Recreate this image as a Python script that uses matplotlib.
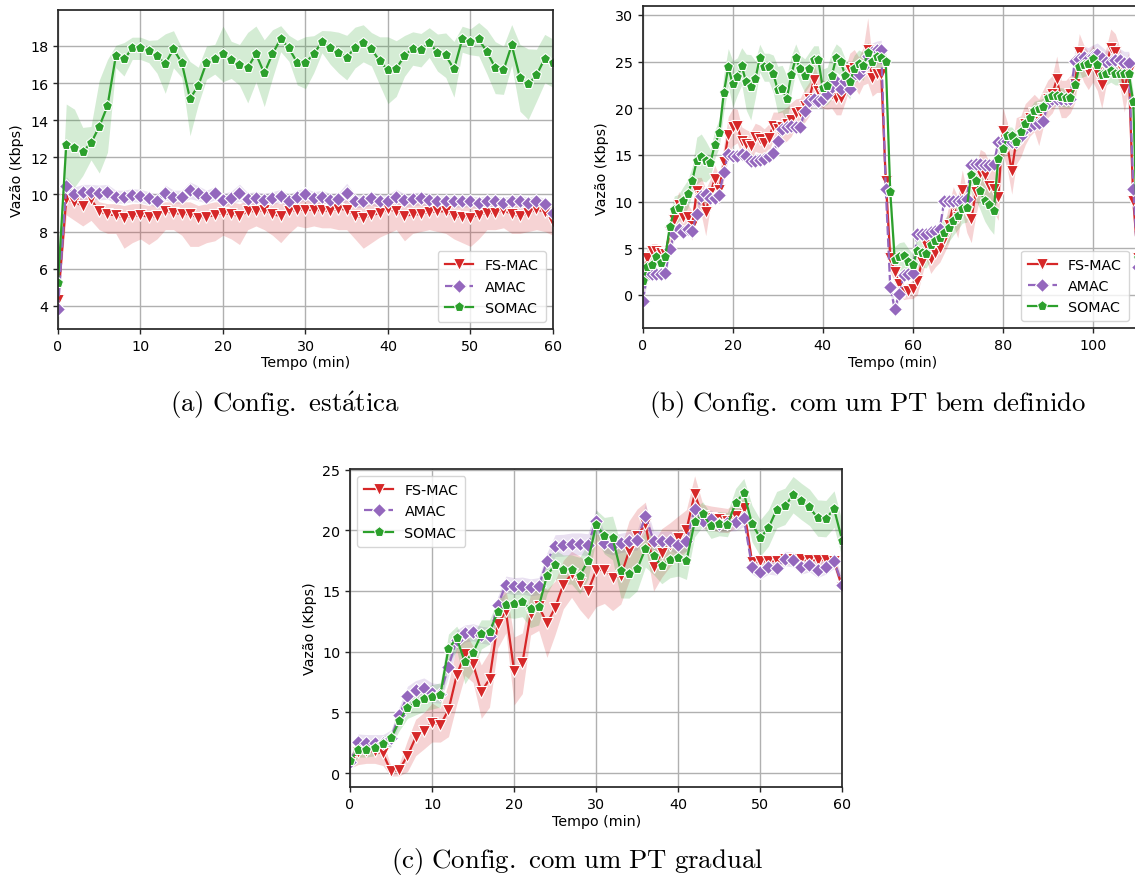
import numpy as np
import matplotlib
matplotlib.use("Agg")
import matplotlib.pyplot as plt

plt.rcParams['font.family'] = ['DejaVu Sans']
plt.rcParams['mathtext.fontset'] = 'cm'
plt.rcParams['font.size'] = 10.3

protocolos = ['FS-MAC', 'AMAC', 'SOMAC']
cores = ['#d62728', '#9467bd', '#2ca02c']
marcadores = ['v', 'D', 'p']
tamanhos = [8, 7.5, 8]
estilos = ['-', (0, (4, 1.5)), '-']

# ---------------- (a) config. estatica ----------------
tempo_a = list(range(61))
a_fs = [4.3, 9.74, 9.6, 9.38, 9.74, 9.08, 8.93, 8.88, 8.75, 8.84,
        8.88, 8.8, 8.84, 9.1, 9.0, 8.96, 8.93, 8.75, 8.8, 8.88,
        9.0, 8.93, 8.84, 9.1, 9.1, 9.17, 8.93, 8.84, 9.1, 9.17,
        9.17, 9.17, 9.15, 9.1, 9.24, 9.17, 8.84, 8.75, 8.88, 9.0,
        9.2, 9.1, 8.84, 8.93, 8.93, 9.06, 9.08, 9.1, 8.84, 8.8,
        8.75, 8.9, 9.0, 9.0, 9.17, 8.93, 8.84, 9.0, 9.2, 9.06,
        8.52]
a_fs_lo = [4.0, 8.9, 8.6, 8.3, 8.6, 8.1, 7.9, 7.9, 7.1, 7.4,
           7.6, 7.3, 7.6, 8.1, 8.1, 7.8, 7.2, 7.2, 7.4, 7.5,
           7.8, 7.6, 7.3, 8.1, 8.3, 8.1, 7.8, 7.4, 7.9, 8.3,
           8.2, 8.3, 8.2, 8.2, 8.1, 8.1, 7.6, 7.1, 7.4, 7.7,
           7.9, 8.1, 7.5, 7.9, 8.0, 8.1, 8.0, 7.9, 7.6, 7.4,
           7.2, 7.6, 8.1, 8.1, 8.2, 7.9, 7.9, 8.0, 8.1, 8.0,
           7.8]
a_fs_hi = [4.6, 10.1, 9.9, 9.8, 10.0, 9.6, 9.5, 9.5, 9.4, 9.5,
           9.5, 9.4, 9.5, 9.6, 9.6, 9.6, 9.6, 9.4, 9.5, 9.6,
           9.6, 9.6, 9.5, 9.7, 9.7, 9.7, 9.6, 9.5, 9.7, 9.8,
           9.7, 9.7, 9.7, 9.7, 9.8, 9.7, 9.5, 9.4, 9.5, 9.6,
           9.7, 9.7, 9.5, 9.6, 9.6, 9.7, 9.7, 9.7, 9.5, 9.5,
           9.4, 9.5, 9.6, 9.6, 9.7, 9.6, 9.5, 9.6, 9.8, 9.7,
           9.2]
a_am = [3.85, 10.46, 10.0, 10.14, 10.14, 10.1, 10.14, 9.88, 9.88, 9.96,
        9.92, 9.8, 9.65, 10.1, 9.88, 9.88, 10.22, 10.06, 9.88, 10.06,
        9.7, 9.83, 10.1, 9.74, 9.8, 9.7, 9.8, 9.92, 9.65, 9.88,
        10.0, 9.8, 9.87, 9.7, 9.74, 10.1, 9.65, 9.65, 9.78, 9.65,
        9.65, 9.88, 9.68, 9.74, 9.78, 9.7, 9.62, 9.62, 9.62, 9.62,
        9.62, 9.56, 9.62, 9.62, 9.56, 9.62, 9.65, 9.56, 9.65, 9.47,
        9.02]
a_am_err = [0.4, 0.5, 0.4, 0.4, 0.4, 0.4, 0.4, 0.35, 0.35, 0.35,
            0.35, 0.35, 0.35, 0.4, 0.35, 0.35, 0.45, 0.4, 0.35, 0.35,
            0.35, 0.35, 0.45, 0.35, 0.35, 0.35, 0.35, 0.35, 0.35, 0.35,
            0.35, 0.35, 0.35, 0.35, 0.35, 0.5, 0.35, 0.35, 0.35, 0.35,
            0.35, 0.4, 0.35, 0.35, 0.35, 0.35, 0.3, 0.3, 0.3, 0.3,
            0.3, 0.3, 0.3, 0.3, 0.3, 0.3, 0.3, 0.3, 0.3, 0.3,
            0.3]
a_so = [5.22, 12.67, 12.49, 12.31, 12.76, 13.65, 14.77, 17.43, 17.28, 17.87,
        17.87, 17.7, 17.43, 17.05, 17.82, 17.1, 15.16, 15.85, 17.1, 17.28,
        17.57, 17.25, 16.98, 16.83, 17.57, 16.53, 17.57, 18.39, 17.87, 17.1,
        17.1, 17.55, 18.23, 17.91, 17.64, 17.37, 17.91, 18.14, 17.82, 17.19,
        16.69, 16.78, 17.46, 17.86, 17.77, 18.18, 17.64, 17.5, 16.74, 18.36,
        18.22, 18.36, 17.68, 16.83, 16.69, 18.05, 16.28, 15.94, 16.42, 17.32,
        17.07]
a_so_err = [0.5, 2.2, 2.1, 1.3, 0.9, 2.5, 2.5, 0.6, 0.9, 0.6,
            0.6, 0.6, 0.9, 1.6, 1.0, 0.8, 2.0, 1.0, 0.9, 0.8,
            1.5, 1.0, 1.1, 1.9, 1.5, 1.8, 1.3, 0.7, 0.7, 1.2,
            1.4, 1.0, 0.6, 0.9, 1.1, 1.2, 1.1, 1.0, 0.9, 1.3,
            1.8, 1.5, 1.1, 0.9, 0.9, 0.8, 1.0, 1.2, 1.5, 0.7,
            0.7, 0.9, 1.2, 1.4, 1.3, 1.1, 1.8, 1.9, 1.4, 1.3,
            1.3]

# ---------------- (b) PT bem definido ----------------
tempo_b = list(range(111))
b_fs = [2.2, 4.0, 4.7, 4.7, 4.45, 4.4, 6.7, 8.0, 9.6, 8.3,
        8.3, 7.4, 11.1, 10.6, 8.85, 10.9, 12.4, 11.25, 14.2, 17.1,
        18.0, 18.1, 16.5, 16.2, 16.0, 16.9, 16.7, 16.3, 16.8, 18.1,
        17.8, 18.0, 18.3, 18.8, 19.5, 19.6, 20.3, 21.0, 23.0, 21.9,
        21.5, 21.4, 21.5, 21.1, 21.1, 22.5, 24.1, 24.3, 23.5, 24.5,
        26.2, 23.3, 23.7, 23.7, 12.25, 4.0, 2.5, 1.2, 0.3, 0.4,
        0.6, 1.5, 3.5, 5.3, 3.8, 4.5, 5.0, 6.0, 7.5, 9.6,
        8.3, 11.2, 8.9, 8.1, 11.0, 13.1, 12.8, 11.7, 11.4, 10.5,
        17.6, 16.0, 13.3, 16.5, 17.0, 18.3, 19.0, 19.5, 18.5, 20.0,
        21.0, 21.5, 23.1, 21.0, 21.0, 21.5, 22.6, 26.0, 24.8, 24.0,
        24.8, 23.9, 22.5, 24.5, 26.5, 26.0, 24.5, 22.1, 24.0, 10.1,
        4.0]
b_fs_err = [0.8, 1.0, 0.8, 0.8, 0.8, 0.8, 1.2, 1.3, 1.5, 1.5,
            1.5, 1.5, 1.5, 2.0, 2.5, 1.5, 1.5, 1.5, 1.8, 2.0,
            2.0, 1.8, 1.5, 1.5, 1.5, 1.5, 1.5, 1.5, 1.5, 1.5,
            1.8, 1.8, 1.8, 1.8, 1.5, 1.5, 1.8, 1.8, 1.8, 1.5,
            1.5, 1.5, 1.5, 1.8, 1.8, 1.8, 1.8, 2.0, 2.0, 2.0,
            3.5, 2.0, 2.0, 2.0, 2.0, 1.5, 1.2, 1.0, 0.8, 0.8,
            1.0, 1.5, 1.5, 1.5, 1.5, 1.5, 1.5, 1.5, 2.0, 2.0,
            2.2, 2.2, 2.2, 2.5, 2.5, 2.5, 2.5, 2.5, 2.5, 2.5,
            2.5, 2.5, 2.5, 2.5, 2.2, 2.2, 2.0, 2.0, 2.5, 2.0,
            2.0, 2.0, 2.5, 2.0, 2.0, 2.0, 2.0, 2.0, 2.0, 2.0,
            2.0, 2.0, 2.5, 2.0, 2.0, 2.0, 2.0, 2.5, 2.0, 1.0,
            1.0]
b_am = [-0.6, 2.1, 2.25, 2.25, 2.25, 2.35, 4.9, 6.5, 7.1, 6.7,
        7.1, 6.9, 8.7, 10.6, 10.8, 10.4, 10.4, 10.7, 13.2, 15.1,
        14.9, 14.85, 15.1, 14.85, 14.4, 14.4, 14.5, 14.6, 14.9, 15.2,
        16.5, 17.8, 18.0, 18.1, 18.0, 18.0, 19.75, 20.8, 21.0, 20.8,
        21.0, 21.5, 22.25, 22.96, 22.1, 22.9, 22.1, 23.6, 23.7, 24.4,
        25.6, 26.0, 26.2, 26.3, 11.4, 0.8, -1.5, 0.1, 2.1, 2.25,
        2.4, 6.5, 6.5, 6.5, 6.7, 6.9, 7.1, 10.1, 10.1, 10.1,
        10.1, 10.1, 10.3, 13.9, 14.0, 14.0, 13.9, 13.9, 14.0, 16.4,
        16.35, 16.5, 16.4, 16.4, 17.0, 17.8, 18.1, 18.3, 18.4, 18.6,
        20.6, 21.0, 21.0, 21.0, 21.0, 21.0, 25.1, 25.3, 25.5, 25.3,
        25.6, 25.8, 25.4, 25.0, 25.0, 25.2, 25.2, 24.9, 24.9, 11.4,
        3.0]
b_am_err = [0.6, 0.6, 0.6, 0.6, 0.6, 0.6, 0.6, 0.6, 0.6, 0.6,
            0.6, 0.6, 0.6, 0.6, 0.6, 0.6, 0.6, 0.6, 0.6, 0.6,
            0.6, 0.6, 0.6, 0.6, 0.6, 0.6, 0.6, 0.6, 0.6, 0.6,
            0.6, 0.6, 0.6, 0.6, 0.6, 0.6, 0.8, 0.8, 0.8, 0.8,
            0.8, 0.8, 0.8, 0.8, 0.8, 0.8, 0.8, 0.8, 0.8, 0.8,
            1.0, 1.0, 1.0, 1.0, 1.0, 0.6, 0.6, 0.6, 0.6, 0.6,
            0.6, 0.6, 0.6, 0.6, 0.6, 0.6, 0.6, 0.6, 0.6, 0.6,
            0.6, 0.6, 0.6, 0.6, 0.6, 0.6, 0.6, 0.6, 0.6, 0.6,
            0.6, 0.6, 0.6, 0.6, 0.6, 0.6, 0.6, 0.6, 0.6, 0.6,
            0.8, 0.8, 0.8, 0.8, 0.8, 0.8, 1.2, 1.2, 1.2, 1.2,
            1.2, 1.2, 1.2, 1.2, 1.2, 1.2, 1.2, 1.2, 1.2, 1.0,
            1.0]
b_so = [1.54, 2.96, 3.25, 4.1, 3.4, 4.1, 7.25, 9.1, 9.3, 10.1,
        10.8, 12.25, 14.4, 14.75, 14.3, 14.1, 16.1, 17.36, 21.6, 24.4,
        22.6, 23.4, 24.5, 22.8, 22.25, 23.1, 25.36, 24.4, 24.4, 23.7,
        22.0, 22.1, 21.0, 23.6, 25.4, 24.2, 23.5, 24.2, 25.2, 25.2,
        22.2, 22.4, 23.5, 25.4, 25.0, 23.5, 22.8, 24.2, 24.75, 24.5,
        25.9, 25.0, 25.5, 25.4, 25.0, 11.0, 3.7, 4.1, 4.2, 3.5,
        3.2, 4.75, 4.46, 4.4, 5.3, 5.8, 6.1, 6.6, 7.2, 7.9,
        8.5, 9.2, 9.3, 12.9, 12.25, 11.1, 10.1, 9.6, 9.0, 14.6,
        15.6, 17.0, 17.0, 16.4, 17.5, 18.3, 19.0, 19.75, 19.9, 20.1,
        21.1, 21.3, 21.3, 21.2, 21.1, 21.1, 22.5, 24.4, 24.6, 24.75,
        25.3, 24.6, 23.6, 23.7, 24.0, 23.7, 23.7, 23.7, 23.7, 20.7,
        4.0]
b_so_err = [0.8, 0.8, 0.8, 0.8, 0.8, 0.8, 1.2, 1.5, 1.5, 1.5,
            1.5, 1.5, 2.5, 2.5, 2.2, 1.5, 1.5, 1.5, 2.0, 2.0,
            2.5, 2.0, 2.0, 3.0, 3.5, 2.0, 1.5, 1.5, 1.5, 2.0,
            2.5, 2.5, 2.5, 2.0, 1.5, 1.5, 1.8, 1.8, 1.5, 1.5,
            2.0, 2.0, 2.5, 1.5, 1.5, 1.8, 1.8, 1.5, 1.5, 1.5,
            1.2, 1.2, 1.5, 1.5, 1.2, 1.0, 1.5, 1.5, 1.5, 1.5,
            1.2, 1.5, 1.5, 1.5, 1.5, 1.5, 1.5, 1.5, 1.5, 1.5,
            1.5, 1.5, 1.5, 1.8, 2.0, 2.0, 2.2, 2.5, 2.5, 1.2,
            1.0, 1.0, 1.0, 1.0, 1.0, 1.0, 1.0, 1.0, 1.0, 1.0,
            1.0, 1.0, 1.0, 1.0, 1.0, 1.0, 1.0, 1.2, 1.2, 1.2,
            1.2, 1.2, 1.2, 1.2, 1.2, 1.2, 1.2, 1.2, 1.2, 1.0,
            1.0]

# ---------------- (c) PT gradual ----------------
tempo_c = list(range(61))
c_fs = [0.9, 1.7, 1.8, 1.8, 1.62, 0.14, 0.27, 1.42, 2.93, 3.48,
        4.16, 3.95, 5.2, 8.05, 9.84, 8.96, 6.71, 7.73, 12.3, 13.34,
        8.41, 9.04, 13.07, 13.75, 12.33, 13.62, 15.53, 16.37, 15.67, 14.99,
        16.7, 16.77, 16.08, 16.22, 18.27, 19.56, 20.52, 16.99, 18.14, 18.82,
        19.37, 20.0, 22.99, 21.16, 21.0, 20.9, 20.8, 21.2, 21.85, 17.4,
        17.45, 17.45, 17.5, 17.6, 17.6, 17.6, 17.55, 17.55, 17.55, 17.45,
        15.3]
c_fs_err = [0.5, 1.0, 1.0, 1.0, 1.0, 0.4, 0.5, 1.3, 1.5, 1.5,
            1.6, 1.4, 2.2, 2.4, 1.8, 1.5, 2.2, 2.3, 2.0, 1.8,
            2.8, 2.5, 1.7, 2.0, 2.8, 2.2, 2.0, 1.9, 2.2, 2.3,
            3.0, 2.8, 2.7, 2.3, 2.5, 2.2, 1.8, 2.0, 2.0, 1.8,
            1.8, 1.7, 1.5, 1.0, 1.0, 1.0, 1.0, 1.0, 0.8, 0.4,
            0.4, 0.4, 0.4, 0.4, 0.4, 0.4, 0.4, 0.4, 0.4, 0.4,
            0.5]
c_am = [0.9, 2.52, 2.47, 2.47, 2.47, 2.85, 4.77, 6.36, 6.82, 7.04,
        6.63, 6.55, 8.77, 11.0, 11.5, 11.6, 11.4, 11.3, 13.84, 15.53,
        15.4, 15.45, 15.3, 15.4, 17.45, 18.74, 18.77, 18.88, 18.88, 18.82,
        20.8, 18.96, 18.77, 18.96, 19.1, 19.18, 21.16, 19.15, 19.1, 19.15,
        18.82, 19.1, 21.75, 20.77, 20.96, 20.5, 20.6, 20.66, 21.0, 16.99,
        16.58, 16.99, 16.9, 17.67, 17.59, 16.99, 17.18, 16.71, 16.99, 17.45,
        15.53]
c_am_err = [0.3, 0.7, 0.7, 0.7, 0.7, 0.7, 0.7, 0.8, 0.8, 0.8,
            0.8, 0.8, 0.8, 0.8, 0.7, 0.7, 0.7, 0.7, 0.7, 0.7,
            0.7, 0.7, 0.7, 0.7, 0.7, 0.9, 0.9, 0.9, 0.9, 0.9,
            1.0, 0.8, 0.8, 0.8, 0.8, 0.8, 1.0, 0.8, 0.8, 0.8,
            0.8, 0.8, 0.8, 0.7, 0.7, 0.7, 0.7, 0.7, 0.7, 0.6,
            0.6, 0.6, 0.6, 0.6, 0.6, 0.6, 0.6, 0.6, 0.6, 0.6,
            0.6]
c_so = [1.0, 1.92, 1.92, 2.03, 2.38, 2.85, 4.3, 5.4, 5.8, 6.08,
        6.27, 6.44, 10.25, 11.1, 9.15, 9.92, 11.42, 11.62, 13.26, 13.84,
        13.95, 14.08, 13.48, 13.7, 16.27, 17.18, 16.77, 16.77, 16.27, 17.45,
        20.47, 19.56, 19.37, 16.63, 16.41, 16.82, 18.47, 17.86, 17.1, 17.59,
        17.73, 17.45, 20.66, 21.34, 20.33, 20.55, 20.47, 22.25, 23.07, 20.55,
        19.37, 20.19, 21.7, 21.97, 22.93, 22.38, 21.89, 21.01, 20.96, 21.75,
        19.15]
c_so_err = [0.4, 0.6, 0.6, 0.6, 0.6, 0.6, 0.8, 0.9, 1.0, 1.0,
            1.0, 1.0, 1.2, 1.0, 1.8, 1.5, 1.2, 1.0, 1.0, 1.0,
            1.2, 1.2, 1.5, 1.5, 1.5, 1.2, 1.2, 1.2, 1.5, 1.5,
            1.2, 1.5, 1.8, 2.2, 2.0, 1.8, 1.5, 1.5, 1.5, 1.5,
            1.5, 1.5, 1.2, 1.0, 1.0, 1.0, 1.0, 1.2, 1.2, 1.5,
            1.5, 1.5, 1.5, 1.5, 1.5, 1.5, 1.5, 1.5, 1.5, 1.5,
            1.5]


def faixa(media, erro):
    m = np.array(media)
    e = np.array(erro)
    return m - e, m + e


def desenha(ax, tempo, series, legenda_loc, ancora=None):
    for i, (media, lo, hi) in enumerate(series):
        ax.fill_between(tempo, lo, hi, color=cores[i], alpha=0.2, linewidth=0)
        ax.plot(tempo, media, color=cores[i], linestyle=estilos[i], lw=1.6,
                marker=marcadores[i], markersize=tamanhos[i],
                markeredgecolor='white', markeredgewidth=0.8,
                label=protocolos[i])
    ax.grid(True, color='#b0b0b0', lw=1.0)
    ax.set_axisbelow(True)
    for s in ax.spines.values():
        s.set_color('#262626')
        s.set_linewidth(1.25)
    ax.tick_params(direction='out', length=3.5, width=1, colors='#262626',
                   labelcolor='black')
    ax.set_xlabel('Tempo (min)', labelpad=2)
    ax.set_ylabel('Vazão (Kbps)', labelpad=4)
    kw = dict(loc=legenda_loc, framealpha=0.8, edgecolor='#cccccc',
              handlelength=2.0, borderpad=0.5, labelspacing=0.5)
    if ancora is not None:
        kw['bbox_to_anchor'] = ancora
    ax.legend(**kw)


fig = plt.figure(figsize=(11.35, 8.79), dpi=100)

# (a)
ax_a = fig.add_axes([0.0511, 0.6246, 0.4361, 0.3632])
desenha(ax_a, tempo_a, [(a_fs, a_fs_lo, a_fs_hi),
                        (a_am, *faixa(a_am, a_am_err)),
                        (a_so, *faixa(a_so, a_so_err))], 'lower right')
ax_a.set_xlim(0, 60)
ax_a.set_ylim(2.75, 19.95)
ax_a.set_xticks([0, 10, 20, 30, 40, 50, 60])
ax_a.set_yticks([4, 6, 8, 10, 12, 14, 16, 18])

# (b)
ax_b = fig.add_axes([0.5663, 0.6254, 0.4401, 0.3663])
desenha(ax_b, tempo_b, [(b_fs, *faixa(b_fs, b_fs_err)),
                        (b_am, *faixa(b_am, b_am_err)),
                        (b_so, *faixa(b_so, b_so_err))], 'lower right',
        ancora=(0.988, 0.0))
ax_b.set_xlim(0, 111)
ax_b.set_ylim(-3.57, 30.93)
ax_b.set_xticks([0, 20, 40, 60, 80, 100])
ax_b.set_yticks([0, 5, 10, 15, 20, 25, 30])

# (c)
ax_c = fig.add_axes([0.3084, 0.1035, 0.4337, 0.3618])
desenha(ax_c, tempo_c, [(c_fs, *faixa(c_fs, c_fs_err)),
                        (c_am, *faixa(c_am, c_am_err)),
                        (c_so, *faixa(c_so, c_so_err))], 'upper left')
ax_c.set_xlim(0, 60)
ax_c.set_ylim(-1.15, 25.05)
ax_c.set_xticks([0, 10, 20, 30, 40, 50, 60])
ax_c.set_yticks([0, 5, 10, 15, 20, 25])

# legendas das subfiguras
fig.text(285 / 1135, 1 - 405 / 879, r'$\mathrm{(a)\ Config.\ est\acute{a}tica}$',
         ha='center', va='center', fontsize=19.3)
fig.text(868 / 1135, 1 - 405 / 879, r'$\mathrm{(b)\ Config.\ com\ um\ PT\ bem\ definido}$',
         ha='center', va='center', fontsize=19.3)
fig.text(577 / 1135, 1 - 862 / 879, r'$\mathrm{(c)\ Config.\ com\ um\ PT\ gradual}$',
         ha='center', va='center', fontsize=19.3)

fig.savefig('out.png', dpi=100)
